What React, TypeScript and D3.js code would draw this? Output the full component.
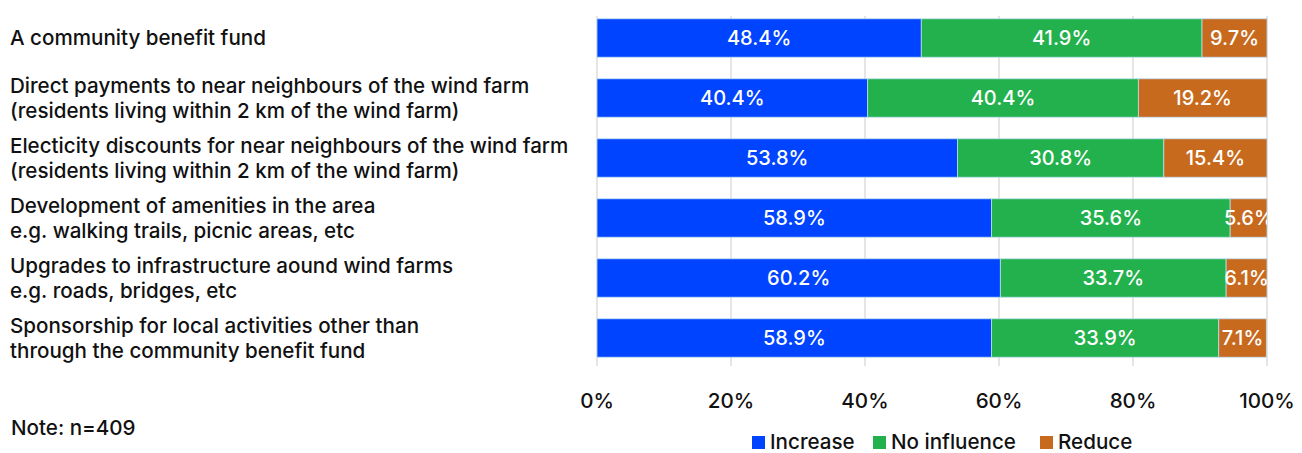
import React from "react";
import * as d3 from "d3";

const categories: string[][] = [
  ["A community benefit fund"],
  ["Direct payments to near neighbours of the wind farm", "(residents living within 2 km of the wind farm)"],
  ["Electicity discounts for near neighbours of the wind farm", "(residents living within 2 km of the wind farm)"],
  ["Development of amenities in the area", "e.g. walking trails, picnic areas, etc"],
  ["Upgrades to infrastructure aound wind farms", "e.g. roads, bridges, etc"],
  ["Sponsorship for local activities other than", "through the community benefit fund"],
];
const increase = [48.4, 40.4, 53.8, 58.9, 60.2, 58.9];
const noInfluence = [41.9, 40.4, 30.8, 35.6, 33.7, 33.9];
const reduce = [9.7, 19.2, 15.4, 5.6, 6.1, 7.1];
const seriesNames = ["Increase", "No influence", "Reduce"];
const seriesColors = ["#0044ff", "#22b14c", "#c86a1e"];
const xTicks = [0, 20, 40, 60, 80, 100];
const note = "Note: n=409";

const W = 1302;
const H = 453;
const FONT = "Inter, 'Noto Sans', Roboto, sans-serif";
const FS = 20.6;

export default function App() {
  const x = d3.scaleLinear().domain([0, 100]).range([597, 1267]);
  const y = d3
    .scaleBand<number>()
    .domain(d3.range(categories.length))
    .range([8, 368])
    .paddingInner(0.36)
    .paddingOuter(0.18);

  const rows = categories.map((_, i) => ({
    i,
    values: [increase[i], noInfluence[i], reduce[i]],
  }));

  const legendItems = [
    { name: seriesNames[0], sx: 752 },
    { name: seriesNames[1], sx: 873 },
    { name: seriesNames[2], sx: 1040 },
  ];

  return (
    <svg
      width={W}
      height={H}
      style={{ position: "absolute", left: 0, top: 0, background: "#fff" }}
      fontFamily={FONT}
    >
      <defs>
        <clipPath id="plotClip">
          <rect x={x(0)} y={0} width={x(100) - x(0)} height={380} />
        </clipPath>
      </defs>
      {xTicks.map((t) => (
        <line
          key={t}
          x1={x(t)}
          x2={x(t)}
          y1={16}
          y2={366}
          stroke="#dcdcdc"
          strokeWidth={1.5}
        />
      ))}
      {rows.map((r) => {
        let cum = 0;
        const by = y(r.i)!;
        const bh = y.bandwidth();
        return (
          <g key={r.i}>
            {r.values.map((v, k) => {
              const x0 = x(cum);
              cum += v;
              const x1 = x(Math.min(cum, 100));
              return (
                <rect
                  key={k}
                  x={x0}
                  y={by}
                  width={x1 - x0}
                  height={bh}
                  fill={seriesColors[k]}
                  stroke="#b9def0"
                  strokeWidth={0.8}
                />
              );
            })}
            <g clipPath="url(#plotClip)">
              {(() => {
                let c = 0;
                return r.values.map((v, k) => {
                  const mid = x(c + v / 2);
                  c += v;
                  return (
                    <text
                      key={k}
                      x={mid}
                      y={by + bh / 2}
                      dy="0.36em"
                      textAnchor="middle"
                      fill="#fff"
                      fontSize={20}
                      fontWeight={500}
                    >
                      {v.toFixed(1)}%
                    </text>
                  );
                });
              })()}
            </g>
          </g>
        );
      })}
      {categories.map((lines, i) => {
        const cy = y(i)! + y.bandwidth() / 2;
        const lh = 25;
        const start = cy - ((lines.length - 1) * lh) / 2;
        return (
          <text key={i} x={10} fontSize={FS} fill="#111" fontWeight={500}>
            {lines.map((l, j) => (
              <tspan key={j} x={10} y={start + j * lh} dy="0.34em">
                {l}
              </tspan>
            ))}
          </text>
        );
      })}
      {xTicks.map((t) => (
        <text
          key={t}
          x={x(t)}
          y={401}
          dy="0.36em"
          textAnchor="middle"
          fontSize={FS}
          fill="#111"
          fontWeight={500}
        >
          {t}%
        </text>
      ))}
      <text x={11} y={428} dy="0.36em" fontSize={FS} fill="#111" fontWeight={500}>
        {note}
      </text>
      {legendItems.map((it, k) => (
        <g key={it.name}>
          <rect x={it.sx} y={436} width={13} height={13} fill={seriesColors[k]} />
          <text x={it.sx + 18} y={442} dy="0.36em" fontSize={FS} fill="#111" fontWeight={500}>
            {it.name}
          </text>
        </g>
      ))}
    </svg>
  );
}
